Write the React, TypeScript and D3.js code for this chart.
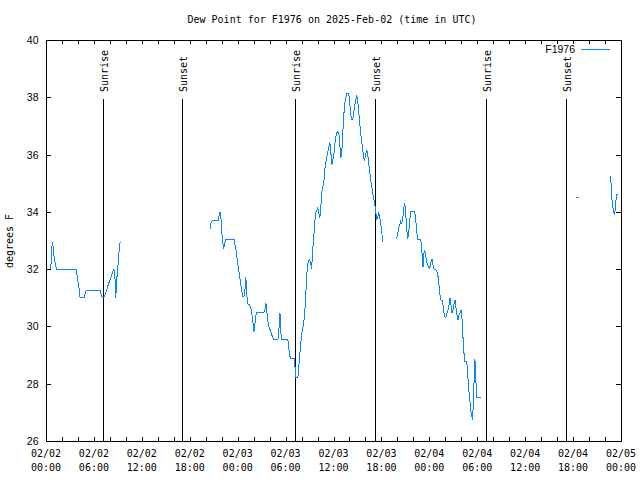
import React from "react";
import * as d3 from "d3";

const TITLE = "Dew Point for F1976 on 2025-Feb-02 (time in UTC)";
const SERIES_NAME = "F1976";
const Y_LABEL = "degrees F";
const START_MS = Date.UTC(2025, 1, 2, 0, 0);
const END_MS = Date.UTC(2025, 1, 5, 0, 0);
const Y_TICKS = [26, 28, 30, 32, 34, 36, 38, 40];

// [hours since 02/02 00:00 UTC, dew point °F]
const segment1: [number, number][] = [
  [0.54, 32.0], [0.63, 32.2], [0.71, 32.65], [0.79, 32.95], [0.88, 32.8], [0.96, 32.55],
  [1.09, 32.3], [1.21, 32.15], [1.29, 32.0], [3.79, 32.0], [3.88, 31.8], [4.0, 31.55],
  [4.13, 31.35], [4.21, 31.1], [4.29, 31.0], [4.79, 31.0], [4.91, 31.15], [5.04, 31.27],
  [6.79, 31.27], [6.91, 31.1], [7.04, 31.0], [7.21, 31.0], [7.38, 31.1], [7.59, 31.27],
  [7.79, 31.45], [8.0, 31.62], [8.21, 31.8], [8.5, 32.0], [8.63, 31.75], [8.75, 31.0],
  [8.83, 31.75], [8.96, 31.75], [9.04, 32.3], [9.16, 32.65], [9.29, 32.95],
];

const segment2: [number, number][] = [
  [20.54, 33.39], [20.63, 33.58], [20.79, 33.69], [21.54, 33.69], [21.66, 33.85], [21.79, 34.0],
  [21.88, 33.9], [21.96, 33.54], [22.04, 33.19], [22.16, 32.9], [22.25, 32.69], [22.38, 32.92],
  [22.54, 33.04], [23.54, 33.04], [23.66, 32.84], [23.79, 32.67], [23.91, 32.41], [24.04, 32.14],
  [24.16, 31.91], [24.29, 31.65], [24.41, 31.41], [24.54, 31.21], [24.66, 31.04], [24.79, 31.04],
  [24.91, 31.25], [25.0, 31.74], [25.09, 31.5], [25.16, 31.04], [25.29, 30.78], [25.5, 30.75],
  [25.63, 30.67], [25.75, 30.46], [25.88, 30.28], [25.96, 29.99], [26.04, 29.82], [26.13, 30.02],
  [26.25, 30.34], [26.38, 30.49], [27.29, 30.49], [27.41, 30.57], [27.54, 30.8], [27.63, 30.63],
  [27.71, 30.34], [27.84, 30.08], [27.96, 29.93], [28.09, 29.88], [28.21, 29.78], [28.34, 29.64],
  [28.54, 29.53], [29.04, 29.53], [29.13, 29.76], [29.21, 30.05], [29.29, 30.48], [29.38, 30.05],
  [29.46, 29.53], [30.29, 29.53], [30.38, 29.29], [30.5, 29.04], [30.59, 28.89], [31.13, 28.89],
  [31.16, 28.73], [31.21, 28.36], [31.29, 28.22], [31.54, 28.22], [31.63, 28.48], [31.75, 28.94],
  [31.88, 29.35], [32.0, 29.7], [32.13, 29.93], [32.25, 30.08], [32.38, 30.4], [32.5, 30.92],
  [32.63, 31.68], [32.75, 32.14], [32.88, 32.28], [33.0, 32.32], [33.13, 32.26], [33.25, 31.99],
  [33.41, 32.73], [33.54, 33.19], [33.66, 33.66], [33.79, 33.97], [33.91, 34.06], [34.04, 34.14],
  [34.16, 33.97], [34.29, 33.78], [34.41, 34.18], [34.54, 34.7], [34.66, 34.86], [34.79, 35.05],
  [34.91, 35.46], [35.04, 35.75], [35.16, 35.9], [35.29, 36.1], [35.41, 36.27], [35.54, 36.45],
  [35.66, 36.1], [35.79, 35.64], [35.91, 35.81], [36.04, 35.98], [36.16, 36.33], [36.29, 36.62],
  [36.41, 36.76], [36.54, 36.8], [36.66, 36.76], [36.79, 36.39], [36.91, 35.87], [37.04, 36.1],
  [37.16, 36.74], [37.29, 37.38], [37.41, 37.79], [37.54, 37.99], [37.66, 38.14], [37.91, 38.14],
  [38.04, 37.79], [38.16, 37.44], [38.25, 37.21], [38.41, 37.21], [38.54, 37.44], [38.66, 37.73],
  [38.79, 37.9], [38.91, 38.08], [39.04, 37.85], [39.16, 37.5], [39.29, 37.09], [39.41, 36.74],
  [39.54, 36.45], [39.66, 36.16], [39.79, 35.87], [39.91, 35.81], [40.04, 36.02], [40.16, 36.16],
  [40.29, 35.98], [40.41, 35.69], [40.54, 35.4], [40.66, 35.11], [40.79, 34.88], [40.91, 34.65],
  [41.04, 34.47], [41.16, 34.3], [41.29, 34.0], [41.41, 33.72], [41.54, 33.83], [41.66, 33.95],
  [41.79, 33.83], [41.91, 33.6], [42.04, 33.31], [42.16, 32.96],
];

const segment3: [number, number][] = [
  [43.91, 33.04], [44.04, 33.25], [44.16, 33.42], [44.29, 33.54], [44.41, 33.66], [44.54, 33.6],
  [44.66, 33.72], [44.79, 34.08], [44.91, 34.32], [45.04, 33.95], [45.16, 33.42], [45.29, 33.04],
  [45.41, 33.25], [45.54, 33.66], [45.66, 34.0], [46.16, 34.0], [46.29, 33.77], [46.41, 33.31],
  [46.54, 33.04], [46.91, 33.04], [47.04, 32.79], [47.13, 32.32], [47.21, 32.08], [47.29, 32.49],
  [47.41, 32.67], [47.54, 32.49], [47.66, 32.26], [47.79, 32.14], [47.91, 32.08], [48.04, 32.03],
  [48.16, 32.2], [48.34, 32.34], [48.46, 32.14], [48.59, 31.99], [48.84, 31.97], [48.96, 31.91],
  [49.09, 31.74], [49.21, 31.45], [49.34, 31.1], [49.46, 30.92], [49.59, 30.92], [49.71, 30.75],
  [49.84, 30.46], [49.96, 30.32], [50.09, 30.32], [50.21, 30.46], [50.34, 30.57], [50.46, 30.75],
  [50.59, 30.98], [50.71, 30.75], [50.84, 30.46], [50.96, 30.57], [51.09, 30.8], [51.21, 30.92],
  [51.34, 30.63], [51.46, 30.4], [51.59, 30.22], [51.71, 30.4], [51.84, 30.46], [51.96, 30.57],
  [52.09, 30.28], [52.21, 29.64], [52.34, 29.06], [52.46, 28.77], [52.66, 28.77], [52.79, 28.48],
  [52.88, 27.96], [53.0, 27.61], [53.13, 27.26], [53.21, 27.02], [53.34, 26.85], [53.41, 26.73],
  [53.5, 27.26], [53.63, 28.3], [53.71, 28.85], [53.79, 28.3], [53.88, 27.84], [53.96, 27.53],
  [54.46, 27.53],
];

const segment4: [number, number][] = [[66.38, 34.51], [66.75, 34.51]];

const segment5: [number, number][] = [
  [70.63, 35.26], [70.75, 35.0], [70.84, 34.53], [70.96, 34.18], [71.09, 34.0], [71.21, 33.93],
  [71.29, 34.12], [71.38, 34.44], [71.46, 34.61], [71.66, 34.61],
];

const SEGMENTS = [segment1, segment2, segment3, segment4, segment5];

// sun events: hours since start
const SUN_EVENT_HOURS = [7.15, 17.05, 31.15, 41.15, 55.15, 65.15];
const SUN_EVENT_LABELS = ["Sunrise", "Sunset", "Sunrise", "Sunset", "Sunrise", "Sunset"];

const W = 640;
const H = 480;
const LEFT = 46;
const RIGHT = 621;
const TOP = 40;
const BOTTOM = 441;
const LINE_COLOR = "#0a84ff";
const MONO = "'DejaVu Sans Mono', monospace";
const SANS = "'Liberation Sans', Arial, sans-serif";

const hourToDate = (h: number) => new Date(START_MS + h * 3600 * 1000);

export default function App() {
  const x = d3.scaleUtc().domain([new Date(START_MS), new Date(END_MS)]).range([LEFT, RIGHT]);
  const y = d3.scaleLinear().domain([26, 40]).range([BOTTOM, TOP]);
  const line = d3
    .line<[number, number]>()
    .x((d) => x(hourToDate(d[0])))
    .y((d) => y(d[1]));

  const minorTicks = x.ticks(d3.utcHour.every(2)!);
  const majorTicks = x.ticks(d3.utcHour.every(6)!);
  const fmtDate = d3.utcFormat("%m/%d");
  const fmtTime = d3.utcFormat("%H:%M");

  return (
    <svg
      width={W}
      height={H}
      style={{ position: "absolute", left: 0, top: 0, background: "#fff" }}
    >
      <rect x={0} y={0} width={W} height={H} fill="#fff" />
      <text x={332} y={23} fontFamily={MONO} fontSize={10} textAnchor="middle" fill="#000">
        {TITLE}
      </text>

      {/* x ticks */}
      <g stroke="#000" strokeWidth={1} shapeRendering="crispEdges">
        {minorTicks.map((t, i) => (
          <g key={i}>
            <line x1={Math.round(x(t)) + 0.5} x2={Math.round(x(t)) + 0.5} y1={BOTTOM} y2={BOTTOM - 4} />
            <line x1={Math.round(x(t)) + 0.5} x2={Math.round(x(t)) + 0.5} y1={TOP} y2={TOP + 4} />
          </g>
        ))}
        {Y_TICKS.map((v, i) => (
          <g key={i}>
            <line x1={LEFT} x2={LEFT + 5} y1={Math.round(y(v)) + 0.5} y2={Math.round(y(v)) + 0.5} />
            <line x1={RIGHT} x2={RIGHT - 5} y1={Math.round(y(v)) + 0.5} y2={Math.round(y(v)) + 0.5} />
          </g>
        ))}
      </g>

      {majorTicks.map((t, i) => (
        <g key={i} fontFamily={MONO} fontSize={10} textAnchor="middle" fill="#000">
          <text x={x(t)} y={457}>{fmtDate(t)}</text>
          <text x={x(t)} y={471}>{fmtTime(t)}</text>
        </g>
      ))}

      {Y_TICKS.map((v, i) => (
        <text key={i} x={38.5} y={y(v) + 4} fontFamily={SANS} fontSize={10.5} textAnchor="end" fill="#000">
          {v}
        </text>
      ))}

      <text
        transform={`translate(13,241) rotate(-90)`}
        fontFamily={MONO}
        fontSize={10}
        textAnchor="middle"
        fill="#000"
      >
        {Y_LABEL}
      </text>

      {/* sunrise / sunset markers */}
      {SUN_EVENT_HOURS.map((h, i) => {
        const xx = Math.round(x(hourToDate(h))) + 0.5;
        return (
          <g key={i}>
            <line x1={xx} x2={xx} y1={99} y2={BOTTOM} stroke="#000" strokeWidth={1} shapeRendering="crispEdges" />
            <text
              transform={`translate(${xx + 4},92) rotate(-90)`}
              fontFamily={MONO}
              fontSize={10}
              textAnchor="start"
              fill="#000"
            >
              {SUN_EVENT_LABELS[i]}
            </text>
          </g>
        );
      })}

      {/* data */}
      <g fill="none" stroke={LINE_COLOR} strokeWidth={1} shapeRendering="crispEdges">
        {SEGMENTS.map((s, i) => (
          <path key={i} d={line(s) || ""} />
        ))}
      </g>

      {/* frame */}
      <rect
        x={LEFT + 0.5}
        y={TOP + 0.5}
        width={RIGHT - LEFT}
        height={BOTTOM - TOP}
        fill="none"
        stroke="#000"
        strokeWidth={1}
        shapeRendering="crispEdges"
      />

      {/* legend */}
      <text x={575} y={53} fontFamily={SANS} fontSize={10.5} textAnchor="end" fill="#000">
        {SERIES_NAME}
      </text>
      <line x1={581} x2={610} y1={49.5} y2={49.5} stroke={LINE_COLOR} strokeWidth={1} shapeRendering="crispEdges" />
    </svg>
  );
}
